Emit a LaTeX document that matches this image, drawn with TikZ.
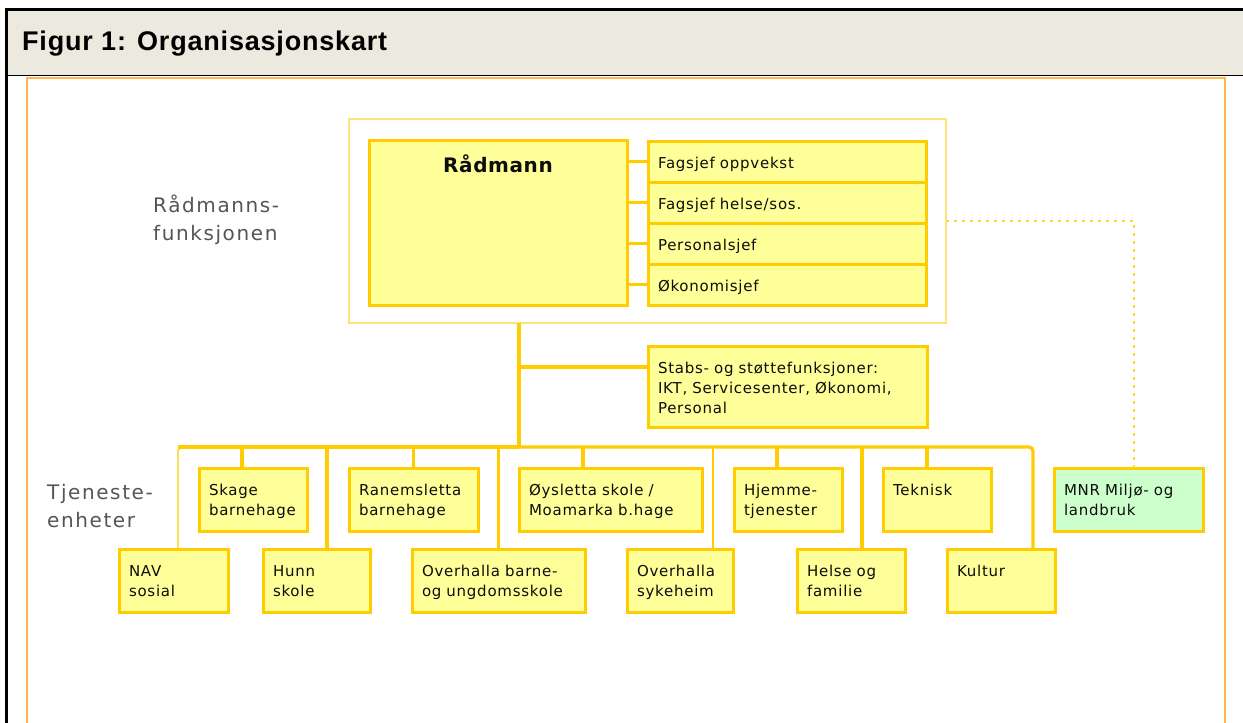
\documentclass[tikz,border=0pt]{standalone}
\usepackage{fontspec}
\usetikzlibrary{positioning, calc}
\newfontfamily\orgfont[LetterSpace=5]{DejaVu Sans}
\newfontfamily\chieffont[LetterSpace=3]{DejaVu Sans}
\newfontfamily\sidefont[LetterSpace=8]{DejaVu Sans}
\newfontfamily\headfont[LetterSpace=3]{Liberation Sans}
\definecolor{gold}{HTML}{FFCC00}
\definecolor{pale}{HTML}{FFFF99}
\definecolor{mint}{HTML}{CCFFCC}
\definecolor{rim}{HTML}{FFE27A}
\definecolor{panelrim}{HTML}{FFB547}
\definecolor{titlebg}{HTML}{ECE9DE}
\definecolor{sidegrey}{HTML}{555555}
\tikzset{%
   % yellow unit box, text set from the top left corner
   unit/.style={
      draw=gold,
      fill=pale,
      line width=3pt,
      outer sep=0pt,
      anchor=north west,
      align=left,
      inner xsep=10pt,
      inner ysep=0pt,
      text height=27pt,
      text depth=36pt,
      text=black!95,
      font=\orgfont\fontsize{15}{20}\selectfont
   },
   % box width: the text runs 10pt inside each side
   wd/.code={\pgfmathsetmacro\unitw{#1-20}\tikzset{minimum width=#1pt, text width=\unitw pt}},
   chief/.style={
      unit,
      align=center,
      text height=32pt,
      text depth=133pt,
      font=\chieffont\bfseries\fontsize{20}{24}\selectfont
   },
   group/.style={
      draw=rim,
      fill=white,
      line width=1.6pt,
      outer sep=0pt,
      inner sep=0pt,
      anchor=north west
   },
   % placed at the baseline of the last line
   side/.style={
      anchor=base west,
      align=left,
      inner sep=0pt,
      text=sidegrey,
      font=\sidefont\fontsize{20}{28}\selectfont
   },
   link/.style={draw=gold, line width=3.2pt},
   thinlink/.style={draw=gold, line width=1.4pt},
   dotlink/.style={draw=gold!80, line width=1.3pt, dash pattern=on 3pt off 5pt},
}

\begin{document}
\begin{tikzpicture}[x=1pt, y=-1pt]
  \useasboundingbox (0,0) rectangle (1243,723);
  % frame and heading
  \fill[titlebg] (7,9) rectangle (1243,75);
  \draw[black, line width=3pt] (6.5,723) -- (6.5,9) -- (1243,9);
  \draw[black, line width=1.5pt] (7,75.5) -- (1243,75.5);
  \draw[panelrim, line width=2pt] (27,723) -- (27,77.5) -- (1225,77.5) -- (1225,723);
  \node[anchor=base west, inner sep=0pt, font=\headfont\bfseries\fontsize{27}{32}\selectfont]
     (title) at (22,50) {Figur 1: Organisasjonskart};

  % leadership
  \node[group, minimum width=597pt, minimum height=204pt] (grp) at (349,119) {};
  \node[chief, wd=258] (raad) at (369,140) {Rådmann};
  \node[unit, wd=278, text depth=14pt] (f1) at (648,141) {Fagsjef oppvekst};
  \node[unit, wd=278, text depth=14pt] (f2) at (648,182) {Fagsjef helse/sos.};
  \node[unit, wd=278, text depth=14pt] (f3) at (648,223) {Personalsjef};
  \node[unit, wd=278, text depth=14pt] (f4) at (648,264) {Økonomisjef};
  \node[unit, wd=279, text depth=54pt] (stabs) at (648,346)
     {Stabs- og støttefunksjoner:\\IKT, Servicesenter, Økonomi,\\Personal};

  \node[side] (lraad) at (153,240) {Rådmanns-\\funksjonen};
  \node[side] (ltjen) at (47,527) {Tjeneste-\\enheter};

  % service units
  \node[unit, wd=108] (skage)  at (199,468)  {Skage\\barnehage};
  \node[unit, wd=129] (ranem)  at (349,468)  {Ranemsletta\\barnehage};
  \node[unit, wd=183] (oysl)   at (519,468)  {Øysletta skole /\\Moamarka b.hage};
  \node[unit, wd=108] (hjem)   at (734,468)  {Hjemme-\\tjenester};
  \node[unit, wd=108] (tekn)   at (883,468)  {Teknisk};
  \node[unit, wd=149, fill=mint] (mnr) at (1054,468) {MNR Miljø- og\\landbruk};
  \node[unit, wd=109] (nav)    at (119,549)  {NAV\\sosial};
  \node[unit, wd=107] (hunn)   at (263,549)  {Hunn\\skole};
  \node[unit, wd=173] (obu)    at (412,549)  {Overhalla barne-\\og ungdomsskole};
  \node[unit, wd=106] (syke)   at (627,549)  {Overhalla\\sykeheim};
  \node[unit, wd=108] (helse)  at (797,549)  {Helse og\\familie};
  \node[unit, wd=108] (kultur) at (947,549)  {Kultur};

  % connectors
  \coordinate (bus) at (519,447);
  \draw[link] (grp.south -| bus) -- (bus);
  \draw[link] ([yshift=19.5pt]stabs.west) -- ([yshift=19.5pt]stabs.west -| bus);
  \foreach \r in {f1,f2,f3,f4}
    \draw[link] (raad.east |- \r.west) -- (\r.west);
  \draw[thinlink, rounded corners=4pt] ([xshift=4.5pt]nav.north) |- (bus);
  \draw[thinlink] ([xshift=33pt]syke.north) -- ([xshift=33pt]syke.north |- bus);
  \draw[link] ([xshift=4.5pt]nav.north |- bus) -- (bus);
  \draw[link, rounded corners=4pt] (bus) -| ([xshift=32pt]kultur.north);
  \foreach \n/\dx in {skage/-11, hunn/10.5, ranem/0, obu/0, oysl/-27.5, hjem/-11, helse/11, tekn/-10}
    \draw[link] ([xshift=\dx pt]\n.north) -- ([xshift=\dx pt]\n.north |- bus);
  \draw[dotlink] (grp.east) -| ([xshift=5.5pt]mnr.north);
\end{tikzpicture}
\end{document}
